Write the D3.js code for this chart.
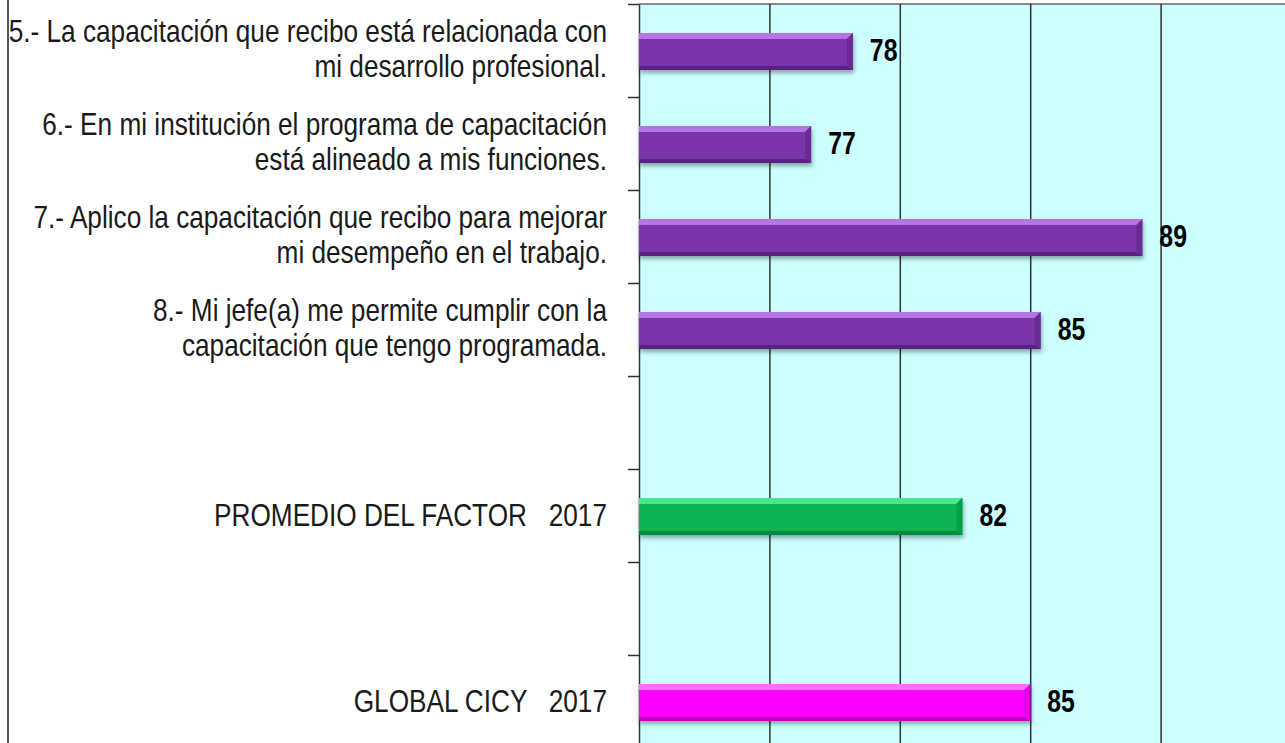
<!DOCTYPE html>
<html>
<head>
<meta charset="utf-8">
<script src="https://cdn.jsdelivr.net/npm/d3@7"></script>
<style>
  body { margin: 0; background: #fff; }
  svg { display: block; }
  .cat { font-family: "Liberation Sans", Arial, sans-serif; font-size: 31px; fill: #1a1a1a; white-space: pre; }
  .val { font-family: "Liberation Sans", Arial, sans-serif; font-size: 31px; font-weight: bold; fill: #000; }
</style>
</head>
<body>
<svg id="chart" width="1285" height="743"></svg>
<script>
// items, top to bottom (empty rows are spacers)
var labels = [
    ["5.- La capacitación que recibo está relacionada con", "mi desarrollo profesional."],
    ["6.- En mi institución el programa de capacitación", "está alineado a mis funciones."],
    ["7.- Aplico la capacitación que recibo para mejorar", "mi desempeño en el trabajo."],
    ["8.- Mi jefe(a) me permite cumplir con la", "capacitación que tengo programada."],
    [],
    ["PROMEDIO DEL FACTOR   2017"],
    [],
    ["GLOBAL CICY   2017"]
];
var values = [78.2, 76.6, 89.3, 85.4, null, 82.4, null, 85.0];
var valueLabels = ["78", "77", "89", "85", "", "82", "", "85"];
var barColors = ["purple", "purple", "purple", "purple", null, "green", null, "magenta"];
var gridTicks = [75, 80, 85, 90, 95];

var palette = {
    purple: { main: "#7a36a8", light: "#b574e2", dark: "#5a2380", side: "#6a2c94" },
    green: { main: "#07b453", light: "#45e891", dark: "#058a3e", side: "#06a048" },
    magenta: { main: "#ff00ff", light: "#ff70ff", dark: "#c000c0", side: "#e600e6" }
};

var svg = d3.select("#chart"),
    width = +svg.attr("width"),
    height = +svg.attr("height");

var plotLeft = 639, plotTop = 4, plotBottom = 748;
var catScale = 0.845, valScale = 0.8; // narrow look

var x = d3.scaleLinear().domain([70, 95]).range([plotLeft, 1291]);
var rowIdx = d3.range(labels.length);
var y = d3.scaleBand().domain(rowIdx).range([plotTop, plotBottom]).padding(0);
var yTick = d3.scaleLinear().domain([0, labels.length]).range([plotTop, plotBottom]);

var defs = svg.append("defs");
var f = defs.append("filter").attr("id", "shadow")
    .attr("x", "-5%").attr("y", "-30%").attr("width", "110%").attr("height", "170%");
f.append("feDropShadow").attr("dx", 1).attr("dy", 3).attr("stdDeviation", 2)
    .attr("flood-color", "#000").attr("flood-opacity", 0.35);

// outer frame pieces
svg.append("line")
    .attr("x1", 8).attr("x2", 8).attr("y1", 0).attr("y2", height)
    .attr("stroke", "#555").attr("stroke-width", 2);

// plot background
svg.append("rect")
    .attr("x", plotLeft).attr("y", plotTop)
    .attr("width", width - plotLeft).attr("height", height - plotTop)
    .attr("fill", "#ccffff");

svg.append("line")
    .attr("x1", plotLeft).attr("x2", width).attr("y1", plotTop).attr("y2", plotTop)
    .attr("stroke", "#8a8a8a").attr("stroke-width", 2);

// vertical gridlines
var grid = svg.append("g")
    .attr("transform", "translate(0," + plotBottom + ")")
    .call(d3.axisBottom(x).tickValues(gridTicks).tickSize(-(plotBottom - plotTop)).tickFormat(""));
grid.select(".domain").remove();
grid.selectAll(".tick line").attr("stroke", "#333").attr("stroke-width", 1.5);

// category axis with ticks between rows
var yAxis = svg.append("g")
    .attr("transform", "translate(" + plotLeft + ",0)")
    .call(d3.axisLeft(yTick).ticks(labels.length).tickSize(11).tickSizeOuter(0).tickFormat(""));
yAxis.select(".domain").attr("stroke", "#333").attr("stroke-width", 1.5);
yAxis.selectAll(".tick line").attr("stroke", "#333").attr("stroke-width", 1.5);

// bars with bevel
var barH = 37, bev = 6;
var bars = svg.selectAll(".bar")
    .data(rowIdx.filter(function(i) { return values[i] != null; }))
    .enter().append("g")
    .attr("class", "bar")
    .attr("filter", "url(#shadow)");

bars.each(function(i) {
    var g = d3.select(this);
    var c = palette[barColors[i]];
    var x0 = x(70), x1 = x(values[i]);
    var y0 = y(i) + y.bandwidth() / 2 - barH / 2 + 1, y1 = y0 + barH;
    g.append("rect").attr("x", x0).attr("y", y0).attr("width", x1 - x0).attr("height", barH).attr("fill", c.main);
    g.append("polygon")
        .attr("points", [[x0, y0], [x1, y0], [x1 - bev, y0 + bev], [x0, y0 + bev]].join(" "))
        .attr("fill", c.light);
    g.append("polygon")
        .attr("points", [[x0, y1 - bev + 2], [x1 - bev, y1 - bev + 2], [x1, y1], [x0, y1]].join(" "))
        .attr("fill", c.dark);
    g.append("polygon")
        .attr("points", [[x1, y0], [x1, y1], [x1 - bev, y1 - bev + 2], [x1 - bev, y0 + bev]].join(" "))
        .attr("fill", c.side);
});

// value labels
svg.selectAll(".valg")
    .data(rowIdx.filter(function(i) { return values[i] != null; }))
    .enter().append("g")
    .attr("class", "valg")
    .attr("transform", function(i) {
        return "translate(" + (x(values[i]) + 17) + "," + (y(i) + y.bandwidth() / 2 + 10) + ") scale(" + valScale + ",1)";
    })
    .append("text")
    .attr("class", "val")
    .text(function(i) { return valueLabels[i]; });

// category labels
svg.selectAll(".catg")
    .data(rowIdx)
    .enter().append("g")
    .attr("class", "catg")
    .attr("transform", function(i) {
        return "translate(607," + (y(i) + y.bandwidth() / 2) + ") scale(" + catScale + ",1)";
    })
    .append("text")
    .attr("class", "cat")
    .attr("text-anchor", "end")
    .each(function(i) {
        var lines = labels[i];
        var t = d3.select(this);
        if (lines.length === 1) {
            t.append("tspan").attr("x", 0).attr("y", 10).text(lines[0]);
        } else {
            lines.forEach(function(s, k) {
                t.append("tspan").attr("x", 0).attr("y", -9 + k * 35).text(s);
            });
        }
    });
</script>
</body>
</html>
